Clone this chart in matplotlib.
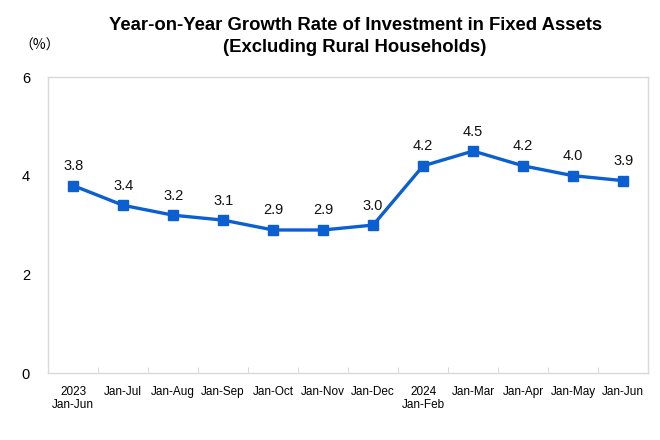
import matplotlib
matplotlib.use('Agg')
import matplotlib.pyplot as plt

plt.rcParams['font.family'] = ['Liberation Sans', 'DejaVu Sans']

# data
periods = ['2023\nJan-Jun', 'Jan-Jul', 'Jan-Aug', 'Jan-Sep', 'Jan-Oct', 'Jan-Nov',
           'Jan-Dec', '2024\nJan-Feb', 'Jan-Mar', 'Jan-Apr', 'Jan-May', 'Jan-Jun']
growth = [3.8, 3.4, 3.2, 3.1, 2.9, 2.9, 3.0, 4.2, 4.5, 4.2, 4.0, 3.9]

fig = plt.figure(figsize=(6.6, 4.4), dpi=100)
ax = fig.add_axes([0.073, 0.152, 0.909, 0.673])

x = list(range(len(periods)))
ax.plot(x, growth, color='#0b5fd0', linewidth=2.4, marker='s', markersize=6.5)

for xi, v in zip(x, growth):
    ax.annotate('%.1f' % v, (xi, v), xytext=(0, 9), textcoords='offset points',
                ha='center', va='bottom', fontsize=10.5, color='#111111')

ax.set_xlim(-0.5, len(periods) - 0.5)
ax.set_ylim(0, 6)
ax.set_yticks([0, 2, 4, 6])
ax.set_xticks(x)
ax.set_xticklabels(periods, fontsize=8.5)
ax.set_xticks([i + 0.5 for i in x[:-1]], minor=True)
ax.tick_params(axis='x', which='major', length=0, pad=9)
ax.tick_params(axis='x', which='minor', length=4, direction='in', color='#d0d0d0')
ax.tick_params(axis='y', length=0, pad=13, labelsize=10.5)

for s in ax.spines.values():
    s.set_color('#d9d9d9')
    s.set_linewidth(1)

fig.text(0.538, 0.942, 'Year-on-Year Growth Rate of Investment in Fixed Assets',
         ha='center', va='center', fontsize=13.3, fontweight='bold')
fig.text(0.538, 0.892, '(Excluding Rural Households)',
         ha='center', va='center', fontsize=13.3, fontweight='bold')
fig.text(0.03, 0.897, '（%）', ha='left', va='center', fontsize=10,
         family=['Noto Sans CJK SC', 'DejaVu Sans'])

fig.savefig('out.png', dpi=100)
